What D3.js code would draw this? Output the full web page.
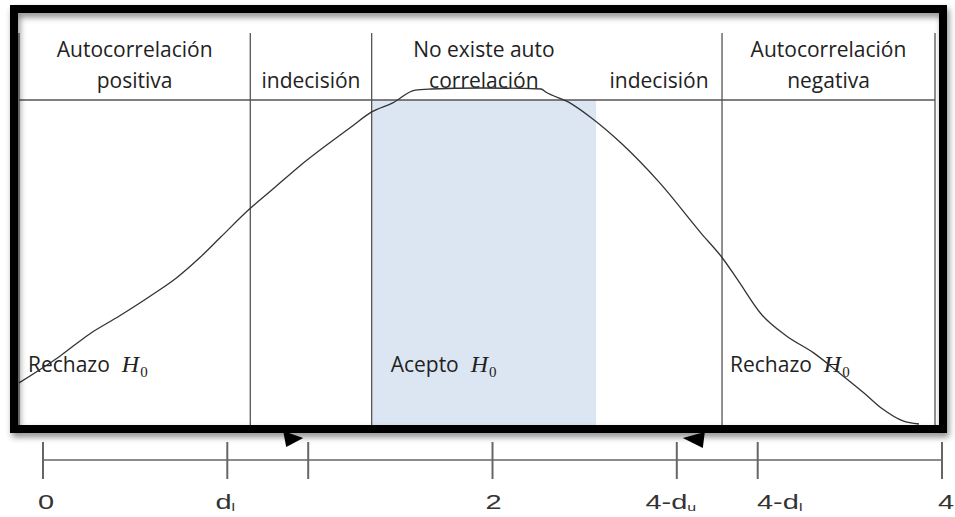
<!DOCTYPE html>
<html>
<head>
<meta charset="utf-8">
<script src="https://cdn.jsdelivr.net/npm/d3@7"></script>
<style>
  body { margin: 0; background: #fff; }
</style>
</head>
<body>
<div id="chart"></div>
<script>
// bell curve: x in d units across the panel, y as share of the peak
var curveX = [0, 0.18, 0.31, 0.44, 0.59, 0.69, 0.79, 0.88, 1.01, 1.10, 1.23, 1.45, 1.54, 1.63, 1.73, 1.80, 2.01, 2.28, 2.30,
  2.40, 2.50, 2.63, 2.80, 2.98, 3.07, 3.14, 3.24, 3.35, 3.47, 3.57, 3.69, 3.77, 3.86, 3.93];
var curveY = [0.125, 0.205, 0.271, 0.324, 0.390, 0.438, 0.497, 0.557, 0.643, 0.695, 0.771, 0.884, 0.929, 0.955, 0.994, 0.997, 1.000, 0.997, 0.988,
  0.958, 0.911, 0.836, 0.717, 0.568, 0.497, 0.429, 0.330, 0.265, 0.214, 0.161, 0.095, 0.048, 0.012, 0.003];

// zones of the upper panel
var zoneEdges = [0, 1.01, 1.54, 2.52, 3.07, 4];
var zoneHeads = [
  ["Autocorrelación", "positiva"],
  ["", "indecisión"],
  ["No existe auto", "correlación"],
  ["", "indecisión"],
  ["Autocorrelación", "negativa"]
];
var dividers = [1.01, 1.54, 3.07];
var acceptZone = [1.54, 2.52];
var verdictAt = [0, 1.54, 3.07];
var verdictWords = ["Rechazo", "Acepto", "Rechazo"];

// bottom d axis
var dL = 0.82, dU = 1.18;
var tickValues = [0, dL, dU, 2, 4 - dU, 4 - dL, 4];
var tickMain = ["0", "d", "", "2", "4-d", "4-d", "4"];
var tickSub = ["", "l", "", "", "u", "l", ""];

var W = 955, H = 517;

var svg = d3.select("#chart").append("svg")
  .attr("width", W)
  .attr("height", H);

var defs = svg.append("defs");
defs.append("filter")
  .attr("id", "shadow")
  .attr("x", "-5%").attr("y", "-5%")
  .attr("width", "110%").attr("height", "115%")
  .append("feDropShadow")
  .attr("dx", 2).attr("dy", 4)
  .attr("stdDeviation", 3)
  .attr("flood-color", "#000")
  .attr("flood-opacity", 0.45);

var px = d3.scaleLinear().domain([0, 4]).range([19, 935]);
var py = d3.scaleLinear().domain([0, 1]).range([425, 88]);
var ax = d3.scaleLinear().domain([0, 4]).range([43, 942]);

var lineTop = 33, headLine = 100, panelBottom = 425;
var textFont = "'Open Sans', sans-serif";

// accept region
svg.append("rect")
  .attr("x", px(acceptZone[0]))
  .attr("y", headLine)
  .attr("width", px(acceptZone[1]) - px(acceptZone[0]))
  .attr("height", panelBottom - headLine)
  .style("fill", "#dce6f2");

// thin grid lines
var grid = svg.append("g")
  .style("stroke", "#555")
  .style("stroke-width", 1.3);

grid.selectAll(".divider")
  .data([0].concat(dividers, [4]))
  .enter()
  .append("line")
  .attr("class", "divider")
  .attr("x1", function (d) { return px(d); })
  .attr("x2", function (d) { return px(d); })
  .attr("y1", lineTop)
  .attr("y2", panelBottom);

grid.append("line")
  .attr("x1", px(0)).attr("x2", px(4))
  .attr("y1", headLine).attr("y2", headLine);

// header texts
var heads = svg.selectAll(".head")
  .data(zoneHeads)
  .enter()
  .append("text")
  .attr("class", "head")
  .attr("text-anchor", "middle")
  .style("font-family", textFont)
  .style("font-size", "21px")
  .style("fill", "#222");

heads.each(function (d, i) {
  var cx = (px(zoneEdges[i]) + px(zoneEdges[i + 1])) / 2;
  var t = d3.select(this);
  t.append("tspan").attr("x", cx).attr("y", 57).text(d[0]);
  t.append("tspan").attr("x", cx).attr("y", 88).text(d[1]);
});

// Rechazo / Acepto H0
var pads = [9, 19, 8];
var verdicts = svg.selectAll(".verdict")
  .data(verdictWords)
  .enter()
  .append("text")
  .attr("class", "verdict")
  .attr("x", function (d, i) { return px(verdictAt[i]) + pads[i]; })
  .attr("y", 372)
  .style("font-family", textFont)
  .style("font-size", "21px")
  .style("fill", "#222");

verdicts.append("tspan").text(function (d) { return d; });
verdicts.append("tspan")
  .attr("dx", 12)
  .style("font-family", "'Liberation Serif', serif")
  .style("font-style", "italic")
  .style("font-size", "24px")
  .text("H");
verdicts.append("tspan")
  .attr("dx", 1)
  .attr("dy", 5)
  .style("font-family", "'Liberation Serif', serif")
  .style("font-size", "15px")
  .text("0");

// the curve
var line = d3.line()
  .x(function (d) { return px(d[0]); })
  .y(function (d) { return py(d[1]); })
  .curve(d3.curveMonotoneX);

svg.append("path")
  .datum(d3.zip(curveX, curveY))
  .attr("d", line)
  .style("fill", "none")
  .style("stroke", "#333")
  .style("stroke-width", 1.3);

// thick black frame
svg.append("rect")
  .attr("x", 14)
  .attr("y", 9)
  .attr("width", 929)
  .attr("height", 420)
  .style("fill", "none")
  .style("stroke", "#000")
  .style("stroke-width", 8)
  .attr("filter", "url(#shadow)");

// bottom axis
var axisY = 460;
var axisG = svg.append("g")
  .style("stroke", "#666")
  .style("stroke-width", 1.6);

axisG.append("line")
  .attr("x1", ax(0)).attr("x2", ax(4))
  .attr("y1", axisY).attr("y2", axisY);

axisG.selectAll(".tick")
  .data(tickValues)
  .enter()
  .append("line")
  .attr("class", "tick")
  .attr("x1", function (d) { return ax(d); })
  .attr("x2", function (d) { return ax(d); })
  .attr("y1", axisY - 18)
  .attr("y2", axisY + 19)
  .style("stroke-width", 2);

var labelNudge = [3, -2, 0, 1, -6, 22, 4];
var labels = svg.selectAll(".tlabel")
  .data(tickValues)
  .enter()
  .append("text")
  .attr("class", "tlabel")
  .attr("text-anchor", "middle")
  .attr("transform", function (d, i) {
    return "translate(" + (ax(d) + labelNudge[i]) + ",509) scale(1.45,1)";
  })
  .style("font-family", "'Liberation Sans', Arial, sans-serif")
  .style("font-size", "20px")
  .style("fill", "#333");

labels.append("tspan").text(function (d, i) { return tickMain[i]; });
labels.append("tspan")
  .attr("dy", 2)
  .style("font-size", "11px")
  .text(function (d, i) { return tickSub[i]; });

// arrows pointing at dU and 4-dU
var arrowY = 438;
svg.append("path")
  .attr("d", function () {
    var t = ax(dU) - 5;
    return "M" + t + "," + arrowY + "L" + (t - 20) + "," + (arrowY - 7) + "L" + (t - 17) + "," + (arrowY + 9) + "Z";
  })
  .style("fill", "#000");

svg.append("path")
  .attr("d", function () {
    var t = ax(4 - dU) + 6;
    return "M" + t + "," + arrowY + "L" + (t + 22) + "," + (arrowY - 6) + "L" + (t + 20) + "," + (arrowY + 10) + "Z";
  })
  .style("fill", "#000");
</script>
</body>
</html>
